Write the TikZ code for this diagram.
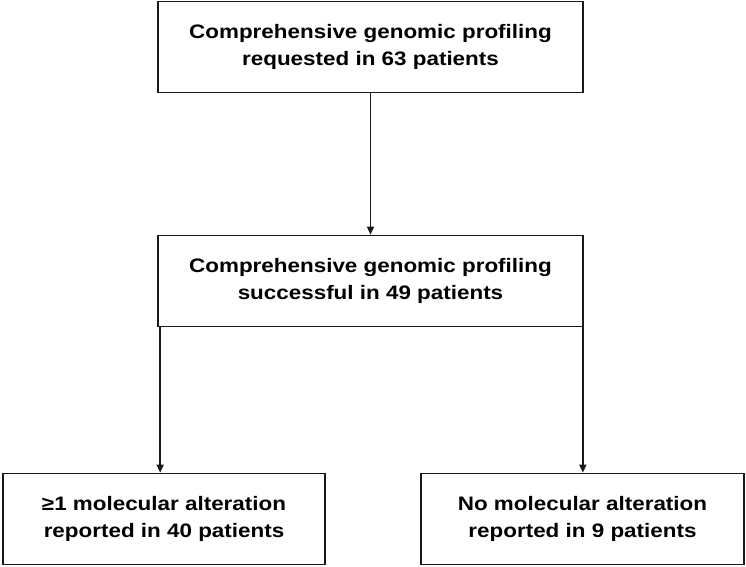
\documentclass[tikz,border=0pt]{standalone}
\usepackage{fontspec}
\setmainfont{Liberation Sans}[FakeStretch=1.15]
\usetikzlibrary{arrows.meta,calc,positioning}
\tikzset{
  caja/.style={
    draw=black!90,
    fill=white,
    line width=1.7pt,
    align=center,
    minimum height=91pt,
    inner sep=0pt,
    font=\fontsize{19.5}{27}\selectfont\bfseries
  },
  arrow/.style={
    -{Triangle[length=8pt,width=7pt]},
    line width=1.6pt,
    black!90
  }
}
\begin{document}
\begin{tikzpicture}[x=1pt,y=-1pt]
\useasboundingbox (0,0) rectangle (746,566);
\node[caja, minimum width=425pt] (pedido) at (370.5,47) {Comprehensive genomic profiling\\requested in 63 patients};
\node[caja, minimum width=425pt] (exito) at (370.5,281) {Comprehensive genomic profiling\\successful in 49 patients};
\node[caja, minimum width=322pt] (altera) at (164,519) {≥1 molecular alteration\\reported in 40 patients};
\node[caja, minimum width=323pt] (sinalt) at (582.5,519) {No molecular alteration\\reported in 9 patients};
\draw[arrow] (pedido.south) -- (exito.north);
\draw[arrow] ([xshift=3pt]exito.south west) -- ([xshift=3pt]exito.south west |- altera.north);
\draw[arrow] ([xshift=-1pt]exito.south east) -- ([xshift=-1pt]exito.south east |- sinalt.north);
\end{tikzpicture}
\end{document}
